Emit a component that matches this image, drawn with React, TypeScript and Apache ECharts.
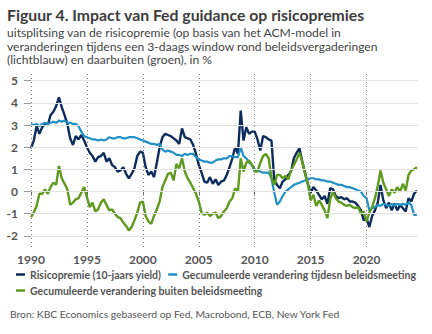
import React, { useEffect, useRef } from "react";
import * as echarts from "echarts";

// Sampling: quarterly points starting in 1990
const START_YEAR = 1990;
const STEP = 0.25;

const seriesNames = [
  "Risicopremie (10-jaars yield)",
  "Gecumuleerde verandering tijdesn beleidsmeeting",
  "Gecumuleerde verandering buiten beleidsmeeting",
];

// Risicopremie (10-jaars yield), %
const riskPremium = [
  1.95, 2.3, 2.95, 2.6,
  2.9, 3.05, 3.0, 3.45,
  3.6, 3.85, 4.25, 3.8,
  3.45, 3.05, 2.4, 2.1,
  2.5, 2.35, 2.55, 2.3,
  2.0, 1.75, 1.6, 1.35,
  1.55, 1.6, 1.75, 1.35,
  1.5, 1.2, 1.1, 0.9,
  0.95, 1.1, 0.8, 0.6,
  0.8, 1.05, 1.6, 1.8,
  1.75, 1.1, 0.75, 0.9,
  0.65, 1.3, 2.0, 2.45,
  2.6, 2.55, 2.5, 2.4,
  2.3, 2.15, 2.85, 2.45,
  2.4, 2.35, 2.1, 1.7,
  1.2, 0.85, 0.45, 0.4,
  0.65, 0.35, 0.55, 0.3,
  0.45, 0.5, 0.75, 1.1,
  1.5, 2.0, 1.7, 3.65,
  2.3, 2.9, 2.6, 2.7,
  2.7, 2.35, 1.85, 2.5,
  2.45, 2.35, 2.3, 0.5,
  0.3, 0.15, 0.45, 0.55,
  0.75, 0.9, 1.5, 1.75,
  1.95, 1.35, 0.85, 0.35,
  -0.05, 0.2, 0.05, -0.15,
  -0.35, -0.2, -0.55, 0.15,
  0.1, -0.2, -0.3, -0.25,
  -0.35, -0.3, -0.45, -0.45,
  -0.5, -0.65, -0.85, -1.3,
  -1.2, -1.6, -1.1, -0.85,
  -0.5, 0.3, -0.4, -0.75,
  -0.5, -0.85, -0.55, -0.85,
  -0.6, -0.75, -0.9, -0.3,
  -0.45, -0.1, 0.05,
];

// Gecumuleerde verandering tijdens beleidsmeeting, %
const duringMeetings = [
  3.05, 3.0, 3.05, 2.95,
  3.05, 3.1, 3.05, 3.1,
  3.15, 3.1, 3.2, 3.15,
  3.2, 3.1, 3.1, 3.05,
  3.05, 2.95, 2.7, 2.5,
  2.45, 2.4, 2.35, 2.35,
  2.3, 2.35, 2.3, 2.35,
  2.45, 2.4, 2.4, 2.45,
  2.45, 2.4, 2.4, 2.45,
  2.45, 2.45, 2.4, 2.35,
  2.3, 2.25, 2.2, 2.15,
  2.15, 2.1, 2.15, 1.9,
  1.8, 1.85, 1.8, 1.75,
  1.65, 1.65, 1.6, 1.7,
  1.65, 1.7, 1.7, 1.55,
  1.45, 1.4, 1.35, 1.35,
  1.3, 1.3, 1.4, 1.45,
  1.45, 1.5, 1.5, 1.6,
  1.6, 1.55, 1.55, 2.0,
  1.6, 1.5, 1.3, 1.2,
  1.0, 0.95, 0.9, 0.85,
  0.85, 0.85, 0.6, -0.05,
  -0.6, -0.45, -0.2, 0.0,
  0.1, 0.2, 0.3, 0.35,
  0.4, 0.45, 0.5, 0.55,
  0.6, 0.6, 0.55, 0.55,
  0.5, 0.5, 0.45, 0.45,
  0.4, 0.35, 0.3, 0.3,
  0.25, 0.2, 0.2, 0.15,
  0.1, 0.05, 0.0, -0.2,
  -0.3, -0.85, -0.75, -0.7,
  -0.6, -0.65, -0.55, -0.6,
  -0.65, -0.55, -0.65, -0.55,
  -0.6, -0.55, -0.6, -0.5,
  -0.6, -1.05, -1.05,
];

// Gecumuleerde verandering buiten beleidsmeeting, %
const outsideMeetings = [
  -1.15, -0.95, -0.65, -0.1,
  -0.1, 0.1, -0.1, 0.2,
  0.4, 0.3, 1.15, 0.6,
  0.35, 0.1, -0.6, -0.5,
  -0.35, -0.3, -0.05, 0.2,
  -0.25, -0.7, -0.5, -0.9,
  -0.8, -0.5, -0.35, -0.6,
  -0.85, -0.8, -1.0, -1.15,
  -1.2, -1.4, -1.55, -1.75,
  -1.6, -1.3, -0.95, -0.5,
  -0.45, -1.1, -1.35, -1.45,
  -1.1, -0.8, -0.45, 0.2,
  0.5, 0.8, 0.85, 0.5,
  1.25, 1.05, 1.5, 0.9,
  0.6, 0.4, 0.15, -0.1,
  -0.45, -0.95, -1.05, -0.95,
  -1.1, -1.0, -0.95, -1.2,
  -1.1, -0.9, -0.75, -0.45,
  -0.3, 0.15, 0.0, 1.5,
  0.9, 1.3, 1.4, 1.2,
  0.9, 0.9, 1.3, 1.6,
  1.7, 1.5, 0.6, 0.3,
  0.75, 0.75, 0.6, 0.7,
  0.55, 0.95, 1.2, 1.45,
  1.75, 1.35, 0.8, 0.35,
  -0.4, -0.15, -0.65, -0.4,
  -0.6, -0.85, -1.2, -0.35,
  0.0, -0.3, -0.45, -0.5,
  -0.6, -0.65, -0.6, -0.7,
  -0.75, -0.7, -1.0, -0.9,
  -1.35, -0.95, -0.7, -0.3,
  0.25, 0.95, 0.4, 0.1,
  -0.2, 0.1, -0.05, 0.2,
  0.0, 0.35, 0.05, 0.75,
  0.95, 1.0, 1.1,
];

const yearTicks = [1990, 1995, 2000, 2005, 2010, 2015, 2020];
const valueTicks = [-2, -1, 0, 1, 2, 3, 4, 5];

const titleText = "Figuur 4. Impact van Fed guidance op risicopremies";
const subtitleLines = [
  "uitsplitsing van de risicopremie (op basis van het ACM-model in",
  "veranderingen tijdens een 3-daags window rond beleidsvergaderingen",
  "(lichtblauw) en daarbuiten (groen), in %",
];
const sourceText = "Bron: KBC Economics gebaseerd op Fed, Macrobond, ECB, New York Fed";

const COLORS = ["#0c2d5b", "#2190c6", "#5e9a1e"];
const FONT = "Lato, 'Open Sans', sans-serif";

const toPairs = (arr: number[]) => arr.map((v, i) => [START_YEAR + i * STEP, v]);

export default function App() {
  const ref = useRef<HTMLDivElement>(null);

  useEffect(() => {
    if (!ref.current) return;
    const chart = echarts.init(ref.current, null, { renderer: "svg" });
    const legendText = { fontSize: 10.5, fontWeight: "bold", color: "#555", fontFamily: FONT };
    chart.setOption({
      animation: false,
      backgroundColor: "#ffffff",
      textStyle: { fontFamily: FONT },
      title: [
        {
          text: titleText,
          left: 7,
          top: 6,
          padding: 0,
          textStyle: { fontSize: 15.8, fontWeight: "bold", color: "#3d3d3d", fontFamily: FONT },
        },
        {
          text: subtitleLines.join("\n"),
          left: 7,
          top: 26,
          padding: 0,
          textStyle: { fontSize: 12.1, fontWeight: "normal", color: "#444", lineHeight: 13.5, fontFamily: FONT },
        },
        {
          text: sourceText,
          left: 10,
          top: 309,
          padding: 0,
          textStyle: { fontSize: 10.3, fontWeight: "normal", color: "#555", fontFamily: FONT },
        },
      ],
      legend: [
        {
          data: [seriesNames[0], seriesNames[1]],
          left: 16,
          top: 269,
          padding: 0,
          icon: "rect",
          itemWidth: 9,
          itemHeight: 2.5,
          itemGap: 7,
          textStyle: legendText,
        },
        {
          data: [seriesNames[2]],
          left: 16,
          top: 285,
          padding: 0,
          icon: "rect",
          itemWidth: 9,
          itemHeight: 2.5,
          textStyle: legendText,
        },
      ],
      grid: { left: 31, right: 14, top: 74, bottom: 87, containLabel: false },
      xAxis: {
        type: "value",
        min: 1990,
        max: 2024.6,
        axisLine: { show: false },
        splitLine: { show: false },
        axisTick: { show: true, customValues: yearTicks, length: 4, lineStyle: { color: "#666" } },
        axisLabel: {
          customValues: yearTicks,
          formatter: (v: number) => String(v),
          margin: 6,
          fontSize: 12,
          fontWeight: "bold",
          color: "#555",
          fontFamily: FONT,
        },
      },
      yAxis: {
        type: "value",
        min: -2.5,
        max: 5.3,
        axisLine: { show: false },
        splitLine: { show: false },
        axisTick: { show: true, customValues: valueTicks, length: 7, lineStyle: { color: "#999" } },
        axisLabel: {
          customValues: valueTicks,
          margin: 13,
          fontSize: 12,
          fontWeight: "bold",
          color: "#555",
          fontFamily: FONT,
        },
      },
      series: [
        {
          name: "grid",
          type: "line",
          data: [],
          z: 1,
          silent: true,
          markLine: {
            silent: true,
            symbol: ["none", "none"],
            label: { show: false },
            animation: false,
            data: [
              ...valueTicks.map((v) => ({ yAxis: v, lineStyle: { color: "#e2e2e2", width: 1.2, type: "solid" } })),
              ...yearTicks.map((y) => ({ xAxis: y, lineStyle: { color: "#777", width: 1, type: [1, 3] } })),
            ],
          },
        },
        {
          name: seriesNames[0],
          type: "line",
          data: toPairs(riskPremium),
          showSymbol: false,
          z: 3,
          lineStyle: { width: 2.4, color: COLORS[0] },
          itemStyle: { color: COLORS[0] },
        },
        {
          name: seriesNames[1],
          type: "line",
          data: toPairs(duringMeetings),
          showSymbol: false,
          z: 3,
          lineStyle: { width: 2.2, color: COLORS[1] },
          itemStyle: { color: COLORS[1] },
        },
        {
          name: seriesNames[2],
          type: "line",
          data: toPairs(outsideMeetings),
          showSymbol: false,
          z: 3,
          lineStyle: { width: 2.4, color: COLORS[2] },
          itemStyle: { color: COLORS[2] },
        },
      ],
    });
    return () => chart.dispose();
  }, []);

  return (
    <div
      ref={ref}
      style={{ position: "fixed", left: 0, top: 0, width: 432, height: 334, background: "#fff" }}
    />
  );
}
